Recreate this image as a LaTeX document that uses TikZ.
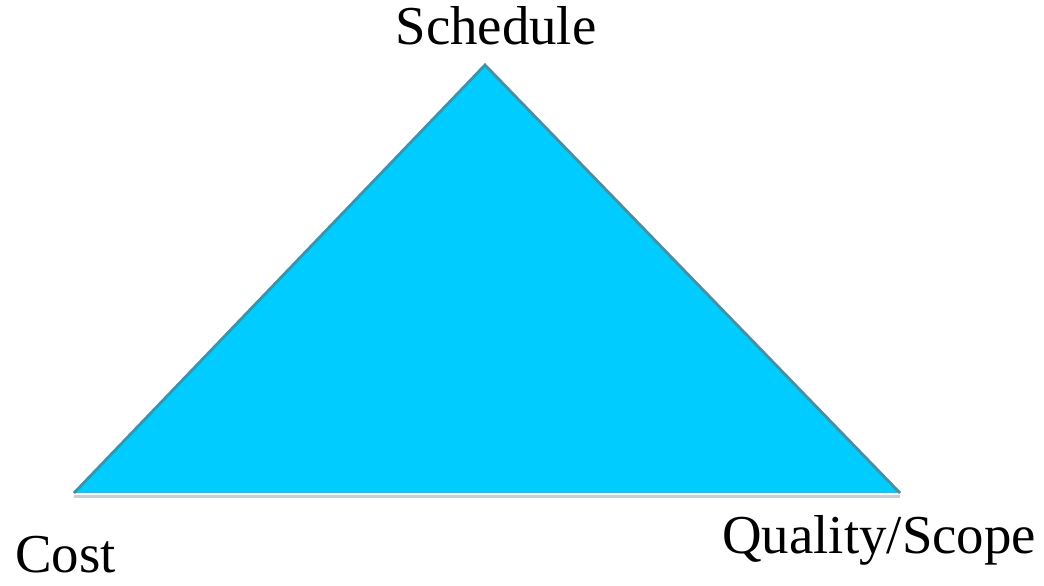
\documentclass[tikz,border=0pt]{standalone}
\usepackage{fontspec}
\setmainfont{Liberation Serif}
\usepackage{tikz}
\usetikzlibrary{positioning, calc}

\definecolor{trifill}{HTML}{00CCFF}
\definecolor{triedge}{HTML}{4A8EA0}
\definecolor{basegray}{HTML}{C4D0D6}

\begin{document}
\begin{tikzpicture}[
  lbl/.style={inner sep=0pt, font=\fontsize{39}{44}\selectfont},
  side/.style={draw=triedge, line width=2pt, line join=miter},
  base/.style={draw=basegray, line width=2.4pt}
]
\useasboundingbox (0,0) rectangle (26.1,14.625);

% ----- Sommets du triangle -----
\coordinate (top)   at (12.125, 13.0);
\coordinate (left)  at (1.85, 2.3);
\coordinate (right) at (22.5, 2.3);

% ----- Triangle -----
\fill[trifill] (left) -- (top) -- (right) -- cycle;
\draw[side] (left) -- (top) -- (right);
\draw[base] ($(left)+(0,-0.08)$) -- ($(right)+(0,-0.08)$);

% ----- Libelles -----
\node[lbl, anchor=base] (schedule) at (12.4, 13.5) {Schedule};
\node[lbl, anchor=base west] (cost) at (0.375, 0.32) {Cost};
\node[lbl, anchor=base west] (quality) at (18.05, 0.8) {Quality/Scope};

\end{tikzpicture}
\end{document}
